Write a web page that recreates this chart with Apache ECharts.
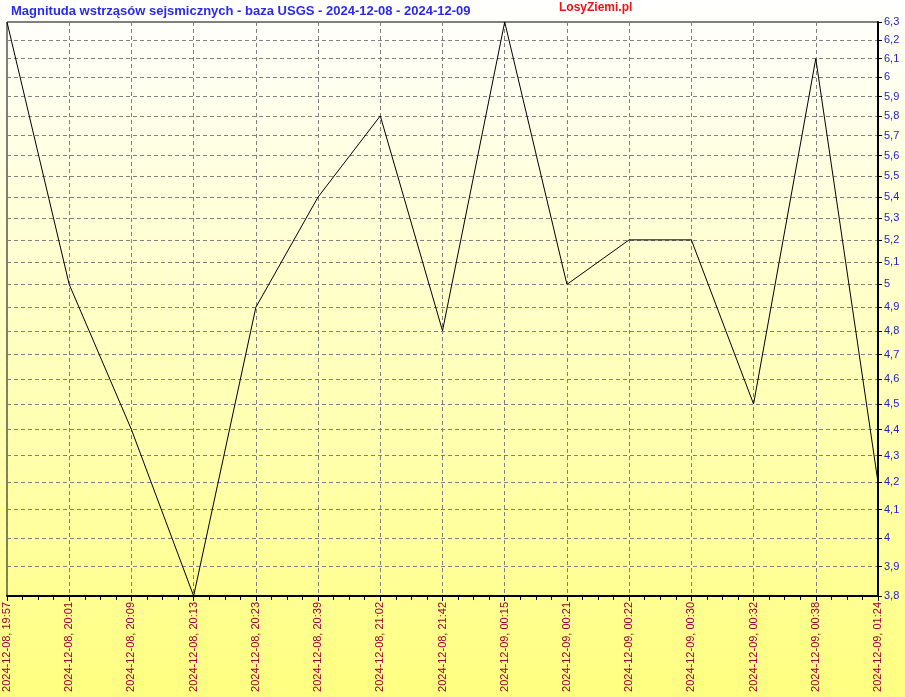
<!DOCTYPE html>
<html><head><meta charset="utf-8">
<script src="https://cdn.jsdelivr.net/npm/echarts@6/dist/echarts.min.js"></script>
<style>html,body{margin:0;padding:0;}#c{width:905px;height:697px;}</style>
</head><body><div id="c"></div>
<script>
const titleText = 'Magnituda wstrząsów sejsmicznych - baza USGS - 2024-12-08 - 2024-12-09';
const siteText = 'LosyZiemi.pl';
const categories = ['2024-12-08, 19:57','2024-12-08, 20:01','2024-12-08, 20:09','2024-12-08, 20:13','2024-12-08, 20:23','2024-12-08, 20:39','2024-12-08, 21:02','2024-12-08, 21:42','2024-12-09, 00:15','2024-12-09, 00:21','2024-12-09, 00:22','2024-12-09, 00:30','2024-12-09, 00:32','2024-12-09, 00:38','2024-12-09, 01:24'];
const magnitudes = [6.3, 5.0, 4.4, 3.8, 4.9, 5.4, 5.8, 4.8, 6.3, 5.0, 5.2, 5.2, 4.5, 6.1, 4.2];
const yTicks = [3.8, 3.9, 4.0, 4.1, 4.2, 4.3, 4.4, 4.5, 4.6, 4.7, 4.8, 4.9, 5.0, 5.1, 5.2, 5.3, 5.4, 5.5, 5.6, 5.7, 5.8, 5.9, 6.0, 6.1, 6.2, 6.3];
const yMin = 3.8, yMax = 6.3;

const chart = echarts.init(document.getElementById('c'), null, {renderer: 'canvas'});
const font = 'Arial, "Liberation Sans", sans-serif';
chart.setOption({
  animation: false,
  backgroundColor: new echarts.graphic.LinearGradient(0, 0, 0, 1, [
    {offset: 0, color: '#ffffff'}, {offset: 1, color: '#ffff80'}
  ]),
  title: [
    {text: titleText, left: 6, top: 0, textStyle: {fontFamily: font, fontSize: 13, fontWeight: 'bold', color: '#2a2aee'}},
    {text: siteText, left: 554, top: -3, textStyle: {fontFamily: font, fontSize: 12, fontWeight: 'bold', color: '#ee1111'}}
  ],
  grid: {left: 7, right: 27, top: 22, bottom: 101, show: true, borderColor: '#000', borderWidth: 1, backgroundColor: 'transparent'},
  xAxis: [{
    type: 'category', data: categories, boundaryGap: false, position: 'bottom',
    axisLine: {show: true, onZero: false, lineStyle: {color: '#000', width: 2}},
    axisTick: {show: true, length: 5, lineStyle: {color: '#000'}},
    splitLine: {show: true, lineStyle: {color: '#808080', type: [4, 3], width: 1}},
    axisLabel: {rotate: 90, interval: 0, margin: 6, color: '#990033', fontFamily: font, fontSize: 11}
  }, {
    type: 'value', min: 0, max: categories.length - 1, interval: 1, position: 'bottom',
    axisLine: {show: false, onZero: false}, axisLabel: {show: false}, splitLine: {show: false},
    axisTick: {show: true, length: 4, lineStyle: {color: '#000'}},
    minorTick: {show: true, splitNumber: 4, length: 4, lineStyle: {color: '#000'}}
  }],
  yAxis: {
    type: 'log', logBase: 10, min: yMin, max: yMax, position: 'right',
    axisLine: {show: true, onZero: false, lineStyle: {color: '#000', width: 2}},
    axisTick: {show: true, length: 4, customValues: yTicks, lineStyle: {color: '#000'}},
    splitLine: {show: true, lineStyle: {color: '#808080', type: [4, 3], width: 1}},
    axisLabel: {customValues: yTicks, margin: 6, color: '#2222cc', fontFamily: font, fontSize: 11,
      formatter: v => String(Math.round(v * 10) / 10).replace('.', ',')}
  },
  series: [{
    type: 'line', data: magnitudes, xAxisIndex: 0, showSymbol: false, symbol: 'none',
    lineStyle: {color: '#000', width: 1}
  }]
});
</script></body></html>
